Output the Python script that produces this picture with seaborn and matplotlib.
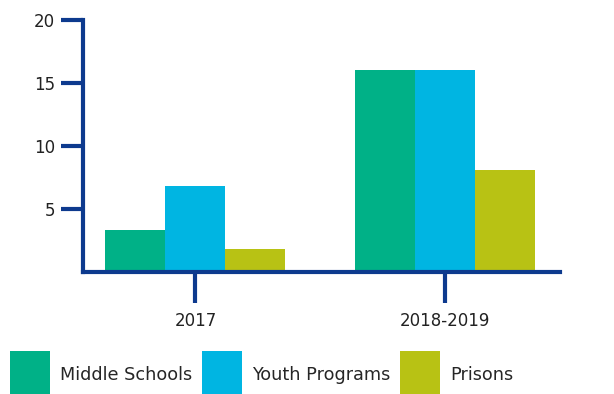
import pandas as pd
import matplotlib.pyplot as plt
import seaborn as sns

years = ['2017', '2018-2019']
middle_schools = [3.3, 16.0]
youth_programs = [6.8, 16.0]
prisons = [1.8, 8.1]
groups = ['Middle Schools', 'Youth Programs', 'Prisons']
colors = ['#00B187', '#00B5E2', '#B8C214']
navy = '#0D3A8E'

df = pd.DataFrame({
    'Year': years * 3,
    'Group': [g for g in groups for _ in years],
    'Value': middle_schools + youth_programs + prisons,
})

sns.set_theme(style='white')
plt.rcParams['font.family'] = ['DejaVu Sans']

fig = plt.figure(figsize=(6.14, 3.94), dpi=100)
ax = fig.add_axes([83 / 614, 1 - 272 / 394, (560 - 83) / 614, (272 - 20) / 394])

sns.barplot(data=df, x='Year', y='Value', hue='Group', palette=colors,
            width=0.72, linewidth=0, saturation=1, ax=ax)

ax.set_xlim(-0.45, 1.46)
ax.set_ylim(0, 20)
ax.set_yticks([5, 10, 15, 20])
ax.set_xlabel('')
ax.set_ylabel('')

for side in ['top', 'right']:
    ax.spines[side].set_visible(False)
for side in ['left', 'bottom']:
    ax.spines[side].set_color(navy)
    ax.spines[side].set_linewidth(3)

ax.tick_params(axis='y', direction='out', length=16, width=3, color=navy,
               pad=4, labelsize=12, labelcolor='#222222', left=True)
ax.tick_params(axis='x', direction='out', length=22, width=3, color=navy,
               pad=7, labelsize=12, labelcolor='#222222', bottom=True)

handles, labels = ax.get_legend_handles_labels()
ax.get_legend().remove()
fig.legend(handles, labels, loc='upper left', bbox_to_anchor=(10 / 614, 1 - 351 / 394),
           ncol=3, frameon=False, fontsize=12.7, handlelength=2.27, handleheight=3.8,
           handletextpad=0.57, columnspacing=0.55, borderpad=0, borderaxespad=0)

fig.savefig('out.png', dpi=100)
